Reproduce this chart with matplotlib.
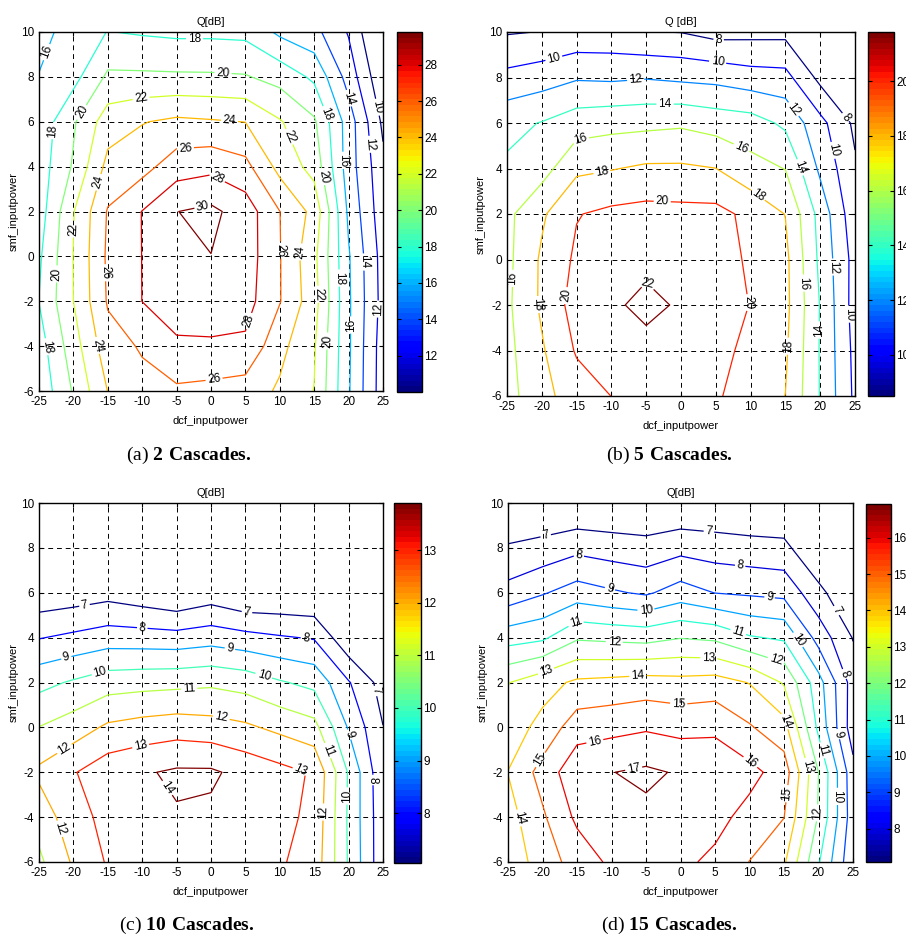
import numpy as np
import matplotlib
matplotlib.use("Agg")
import matplotlib.pyplot as plt
from matplotlib import cm
from matplotlib.colors import Normalize

plt.rcParams['font.family'] = ['Liberation Sans', 'DejaVu Sans']
plt.rcParams['axes.unicode_minus'] = False
plt.rcParams['mathtext.fontset'] = 'custom'
plt.rcParams['mathtext.rm'] = 'Liberation Serif'
plt.rcParams['mathtext.bf'] = 'Liberation Serif:bold'

# --- grid of the measurements ---
DCF = [-25, -20, -15, -10, -5, 0, 5, 10, 15, 20, 25]   # dcf_inputpower
SMF = [-6, -4, -2, 0, 2, 4, 6, 8, 10]                   # smf_inputpower

# Q[dB], one row per smf value (-6 .. 10), one column per dcf value (-25 .. 25)
Q_2 = [
    [16.6, 20.2, 24.05, 25.4, 25.69, 25.44, 25.1, 23.7, 21.95, 16.2, 10.95],
    [17.1, 21.1, 25.2, 26.2, 27.58, 27.69, 27.6, 24.6, 22.2, 16.3, 11.0],
    [18.03, 22.0, 26.2, 28.02, 29.3, 29.2, 28.8, 26.1, 22.8, 16.3, 11.3],
    [17.67, 22.05, 26.35, 28.03, 29.6, 29.97, 29.07, 26.1, 22.5, 16.2, 11.2],
    [17.0, 21.9, 26.16, 28.05, 29.97, 30.45, 29.07, 26.02, 23.4, 15.6, 10.75],
    [16.95, 20.23, 24.6, 25.3, 27.06, 27.45, 26.59, 23.35, 21.3, 15.0, 10.5],
    [16.7, 19.75, 23.06, 23.9, 24.41, 24.2, 23.97, 22.17, 20.3, 15.05, 9.6],
    [16.09, 17.33, 20.36, 20.35, 20.3, 20.27, 20.15, 19.3, 17.6, 13.2, 8.3],
    [15.2, 17.0, 18.05, 17.8, 17.6, 17.6, 17.5, 15.6, 14.6, 11.83, 7.0],
]

Q_5 = [
    [15.29, 17.375, 19.0, 20.02, 20.7, 20.6, 20.2, 19.2, 17.98, 13.9, 9.6],
    [15.44, 17.77, 20.2, 21.0, 21.39, 21.2, 20.6, 19.5, 18.3, 13.85, 9.45],
    [15.62, 18.32, 20.87, 21.67, 22.5, 21.76, 21.0, 19.94, 18.55, 13.9, 9.15],
    [15.5, 18.3, 20.35, 21.0, 21.5, 21.4, 20.9, 19.7, 18.5, 13.55, 9.25],
    [15.52, 17.7, 19.9, 20.45, 20.68, 20.6, 20.6, 19.5, 17.95, 13.3, 8.65],
    [14.33, 15.18, 17.59, 17.9, 18.3, 18.3, 18.02, 16.65, 15.95, 11.6, 8.27],
    [13.44, 14.09, 15.07, 15.37, 15.51, 15.7, 15.2, 14.9, 13.6, 10.6, 7.6],
    [10.56, 11.08, 11.79, 11.67, 11.87, 11.6, 11.4, 10.84, 10.66, 7.45, 6.0],
    [7.84, 8.05, 8.54, 8.55, 8.05, 7.95, 7.3, 7.42, 7.46, 6.3, 5.0],
]

Q_10 = [
    [10.8, 12.13, 13.1, 13.35, 13.5, 13.45, 13.4, 13.1, 12.6, 9.9, 7.3],
    [11.4, 12.6, 13.3, 13.6, 13.92, 13.82, 13.6, 13.3, 12.75, 9.85, 7.3],
    [12.2, 12.93, 13.6, 13.89, 14.15, 14.15, 13.68, 13.3, 12.9, 9.9, 7.2],
    [11.02, 11.49, 12.17, 12.4, 12.55, 12.41, 12.17, 11.76, 11.33, 8.9, 7.02],
    [9.7, 10.12, 10.55, 10.65, 10.72, 10.82, 10.61, 10.1, 9.72, 8.08, 6.6],
    [7.95, 8.22, 8.5, 8.45, 8.38, 8.58, 8.33, 8.1, 7.92, 6.2, 5.5],
    [6.27, 6.42, 6.64, 6.35, 6.02, 6.43, 5.97, 6.0, 5.96, 5.3, 4.8],
    [5.6, 5.7, 5.8, 5.6, 5.2, 5.5, 5.1, 5.0, 4.9, 4.5, 4.0],
    [5.0, 5.1, 5.2, 5.0, 4.6, 4.9, 4.5, 4.4, 4.3, 4.0, 3.5],
]

Q_15 = [
    [13.3, 14.5, 15.4, 16.2, 16.4, 16.2, 15.8, 14.98, 14.15, 11.1, 8.2],
    [13.6, 14.85, 16.2, 16.6, 16.8, 16.6, 16.3, 15.68, 15.02, 11.9, 8.45],
    [14.02, 15.38, 16.7, 16.98, 17.17, 16.9, 16.7, 16.3, 15.55, 12.0, 8.35],
    [13.5, 14.3, 15.55, 15.7, 15.88, 15.7, 15.8, 15.1, 14.36, 10.76, 7.45],
    [12.96, 13.62, 14.18, 14.29, 14.43, 14.33, 14.43, 13.96, 12.9, 10.4, 7.55],
    [10.56, 10.81, 11.87, 11.76, 11.66, 11.96, 11.81, 11.1, 10.85, 8.6, 6.95],
    [8.35, 8.91, 9.45, 9.13, 8.86, 9.45, 8.98, 8.85, 8.72, 7.3, 6.0],
    [7.1, 7.34, 7.73, 7.52, 7.35, 7.68, 7.5, 7.38, 7.28, 6.0, 5.0],
    [6.0, 6.0, 5.99, 6.0, 6.05, 6.06, 6.07, 5.97, 5.98, 5.3, 4.5],
]

LEVELS_2 = list(range(10, 31, 2))
LEVELS_5 = list(range(8, 23, 2))
LEVELS_10 = list(range(7, 15))
LEVELS_15 = list(range(7, 18))

CLIM_2 = [10.0, 29.8]
CLIM_5 = [8.5, 21.8]
CLIM_10 = [7.05, 13.9]
CLIM_15 = [7.08, 16.93]

CTICKS_2 = [12, 14, 16, 18, 20, 22, 24, 26, 28]
CTICKS_5 = [10, 12, 14, 16, 18, 20]
CTICKS_10 = [8, 9, 10, 11, 12, 13]
CTICKS_15 = [8, 9, 10, 11, 12, 13, 14, 15, 16]

TITLES = ["Q[dB]", "Q [dB]", "Q[dB]", "Q[dB]"]
CAPTIONS = [r"(a) $\mathbf{2\ Cascades.}$", r"(b) $\mathbf{5\ Cascades.}$",
            r"(c) $\mathbf{10\ Cascades.}$", r"(d) $\mathbf{15\ Cascades.}$"]

W, H = 906, 940


def frac(left, top, right, bottom):
    return [left / W, 1 - bottom / H, (right - left) / W, (bottom - top) / H]


AX_BOXES = [frac(39, 32, 383, 391), frac(507, 32, 855, 396),
            frac(39, 503, 383, 862), frac(508, 503, 853, 862)]
CB_BOXES = [frac(397, 32, 422, 392), frac(868, 32, 894, 396),
            frac(394, 503, 421, 863), frac(866, 504, 891, 862)]
CAPTION_XY = [(189, 455), (669, 455), (187, 925), (669, 925)]


def label_spots(cs, ax, spacing=165.0):
    """Points spread along every contour path, like matlab's clabel spacing.
    The start offset changes from level to level so labels do not line up."""
    spots = []
    to_disp = ax.transData
    to_data = ax.transData.inverted()
    for j, path in enumerate(cs.get_paths()):
        if len(path.vertices) == 0:
            continue
        first = 35.0 + (j * 47) % 110
        for sub in path.to_polygons(closed_only=False):
            if len(sub) < 2:
                continue
            disp = to_disp.transform(sub)
            seg = np.hypot(*np.diff(disp, axis=0).T)
            cum = np.concatenate([[0.0], np.cumsum(seg)])
            total = cum[-1]
            if total < 35:
                continue
            d = first if first < total - 15 else total / 2
            while d < total - 15:
                k = np.searchsorted(cum, d) - 1
                k = min(max(k, 0), len(seg) - 1)
                t = (d - cum[k]) / seg[k] if seg[k] > 0 else 0.0
                p = disp[k] + t * (disp[k + 1] - disp[k])
                spots.append(tuple(to_data.transform(p)))
                d += spacing
    return spots


panels = [
    (Q_2, LEVELS_2, CLIM_2, CTICKS_2),
    (Q_5, LEVELS_5, CLIM_5, CTICKS_5),
    (Q_10, LEVELS_10, CLIM_10, CTICKS_10),
    (Q_15, LEVELS_15, CLIM_15, CTICKS_15),
]

fig = plt.figure(figsize=(W / 100, H / 100), dpi=100)
cmap = plt.get_cmap('jet', 64)
X, Y = np.meshgrid(DCF, SMF)

for i, (q, levels, clim, cticks) in enumerate(panels):
    ax = fig.add_axes(AX_BOXES[i])
    norm = Normalize(vmin=clim[0], vmax=clim[1])
    cs = ax.contour(X, Y, np.array(q), levels=levels, cmap=cmap, norm=norm,
                    linewidths=0.9)
    ax.set_xlim(-25, 25)
    ax.set_ylim(-6, 10)
    ax.clabel(cs, manual=label_spots(cs, ax), fmt='%d', fontsize=8.5,
              colors='k', inline=True, inline_spacing=2)

    ax.set_xticks(DCF)
    ax.set_yticks(SMF)
    ax.grid(True, color='k', linestyle=(0, (5, 4)), linewidth=0.7)
    ax.tick_params(direction='in', length=3, labelsize=8.5, top=True, right=True)
    for s in ax.spines.values():
        s.set_linewidth(1.0)
    ax.set_title(TITLES[i], fontsize=8, pad=5)
    ax.set_xlabel("dcf_inputpower", fontsize=8)
    ax.set_ylabel("smf_inputpower", fontsize=8)
    ax.xaxis.set_label_coords(0.5, -0.07)
    ax.yaxis.set_label_coords(-0.06, 0.5)

    cax = fig.add_axes(CB_BOXES[i])
    sm = cm.ScalarMappable(norm=norm, cmap=cmap)
    cb = fig.colorbar(sm, cax=cax, ticks=cticks)
    cb.ax.tick_params(direction='in', length=3, labelsize=8.5, pad=1.5,
                      left=True, right=True)
    cb.outline.set_linewidth(1.0)

    cx, cy = CAPTION_XY[i]
    fig.text(cx / W, 1 - cy / H, CAPTIONS[i], ha='center', va='center',
             fontsize=14, family='Liberation Serif')

fig.savefig("out.png", dpi=100)
